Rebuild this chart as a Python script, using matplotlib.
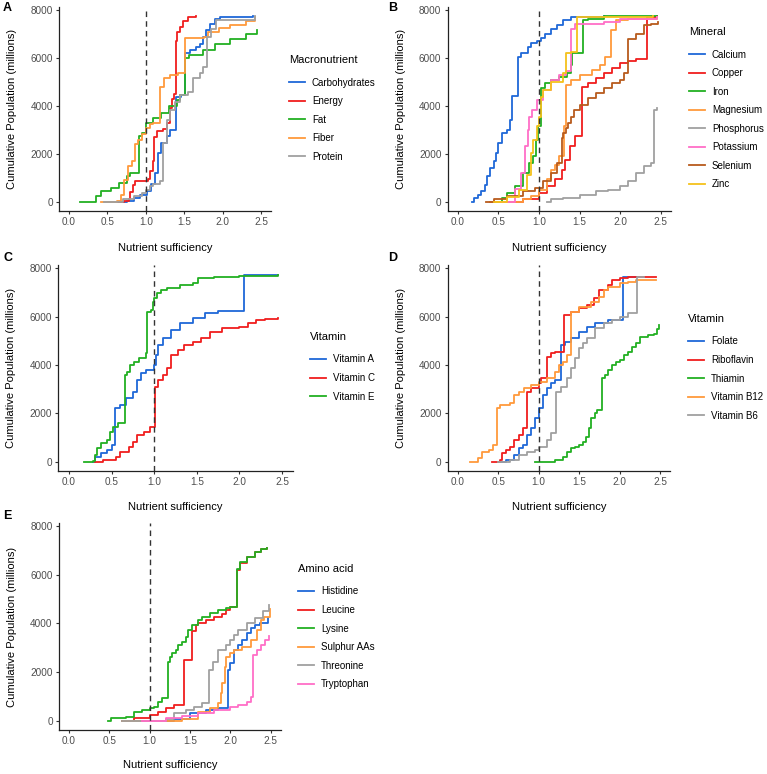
import matplotlib
matplotlib.use("Agg")
import matplotlib.pyplot as plt
from matplotlib.lines import Line2D

plt.rcParams['font.family'] = ['Liberation Sans', 'DejaVu Sans']

W, H = 767, 774

BLUE = "#1f68d8"
RED = "#f01e1e"
GREEN = "#22b022"
ORANGE = "#ff9a3c"
GRAY = "#a0a0a0"
PINK = "#ff6ec7"
BROWN = "#b85a1c"
YELLOW = "#f5c21b"

# ---------------------------------------------------------------- data
# A: macronutrients  (nutrient sufficiency, cumulative population in millions)
macro_x = {
    "Carbohydrates": [0.45, 0.75, 0.84, 0.92, 1.01, 1.07, 1.12, 1.16, 1.20, 1.27, 1.31, 1.39, 1.46, 1.51, 1.57, 1.66, 1.70, 1.74, 1.79, 1.83, 1.90, 1.96, 2.39],
    "Energy": [0.63, 0.72, 0.78, 0.80, 0.83, 0.86, 1.03, 1.06, 1.09, 1.11, 1.15, 1.22, 1.28, 1.31, 1.34, 1.37, 1.39, 1.41, 1.44, 1.48, 1.55, 1.66],
    "Fat": [0.14, 0.32, 0.35, 0.42, 0.55, 0.65, 0.75, 0.80, 0.91, 0.95, 1.00, 1.10, 1.20, 1.30, 1.40, 1.45, 1.51, 1.56, 1.75, 1.90, 2.10, 2.30, 2.45],
    "Fiber": [0.42, 0.62, 0.68, 0.72, 0.77, 0.82, 0.86, 0.90, 0.95, 1.00, 1.05, 1.10, 1.19, 1.24, 1.32, 1.42, 1.51, 1.76, 1.81, 1.95, 2.10, 2.30, 2.42],
    "Protein": [0.46, 0.70, 0.85, 0.95, 1.00, 1.05, 1.10, 1.18, 1.22, 1.28, 1.32, 1.38, 1.45, 1.55, 1.62, 1.70, 1.75, 1.80, 1.85, 1.92, 2.42],
}
macro_y = {
    "Carbohydrates": [0, 30, 170, 300, 440, 720, 1200, 2040, 2450, 2730, 3000, 4390, 4460, 6200, 6330, 6470, 6610, 6890, 7170, 7440, 7650, 7720, 7750],
    "Energy": [0, 30, 100, 400, 700, 880, 930, 1300, 1700, 2700, 2950, 3050, 3300, 3900, 4300, 4500, 6700, 7100, 7300, 7550, 7700, 7780],
    "Fat": [0, 0, 240, 440, 580, 790, 1070, 1200, 2730, 2870, 3280, 3500, 3700, 3980, 4250, 4460, 5990, 6130, 6330, 6600, 6800, 7030, 7190],
    "Fiber": [0, 50, 300, 900, 1500, 1700, 2400, 2600, 2850, 3100, 3250, 3300, 4800, 5150, 5300, 5400, 6850, 6900, 7100, 7250, 7400, 7550, 7700],
    "Protein": [0, 100, 250, 370, 510, 650, 720, 860, 2450, 3420, 3840, 4180, 4460, 4600, 5150, 5360, 5640, 6890, 7230, 7580, 7750],
}

# B: minerals
mineral_x = {
    "Calcium": [0.17, 0.20, 0.25, 0.29, 0.33, 0.36, 0.40, 0.44, 0.47, 0.50, 0.55, 0.61, 0.64, 0.67, 0.74, 0.78, 0.86, 0.90, 0.98, 1.03, 1.08, 1.15, 1.22, 1.30, 1.40, 1.80],
    "Copper": [0.55, 0.80, 1.00, 1.10, 1.20, 1.28, 1.32, 1.38, 1.45, 1.53, 1.60, 1.70, 1.80, 1.90, 2.00, 2.10, 2.20, 2.33, 2.45],
    "Iron": [0.45, 0.55, 0.60, 0.70, 0.80, 0.88, 0.93, 0.96, 0.99, 1.02, 1.08, 1.15, 1.25, 1.35, 1.39, 1.41, 1.54, 1.60, 1.80, 2.45],
    "Magnesium": [0.40, 0.80, 0.90, 1.00, 1.10, 1.15, 1.20, 1.25, 1.31, 1.33, 1.40, 1.50, 1.65, 1.75, 1.82, 1.89, 1.95, 2.10, 2.45],
    "Phosphorus": [1.10, 1.15, 1.30, 1.50, 1.70, 1.85, 2.00, 2.10, 2.20, 2.30, 2.38, 2.42, 2.46],
    "Potassium": [0.55, 0.70, 0.78, 0.83, 0.86, 0.88, 0.92, 0.97, 1.05, 1.15, 1.25, 1.33, 1.39, 1.45, 1.80, 2.00, 2.45],
    "Selenium": [0.35, 0.45, 0.60, 0.80, 0.95, 1.05, 1.15, 1.22, 1.28, 1.30, 1.33, 1.36, 1.40, 1.43, 1.50, 1.60, 1.70, 1.80, 1.90, 2.00, 2.05, 2.10, 2.20, 2.30, 2.38, 2.47],
    "Zinc": [0.45, 0.60, 0.75, 0.85, 0.90, 0.93, 0.97, 1.00, 1.02, 1.05, 1.15, 1.30, 1.33, 1.40, 1.47, 2.40],
}
mineral_y = {
    "Calcium": [0, 150, 300, 450, 700, 1070, 1400, 1700, 2040, 2450, 2870, 3000, 3400, 4400, 6060, 6200, 6450, 6650, 6700, 6850, 7000, 7200, 7400, 7600, 7720, 7750],
    "Copper": [0, 100, 370, 650, 930, 1340, 1760, 2310, 2730, 4810, 4950, 5150, 5360, 5570, 5780, 5880, 5950, 7720, 7750],
    "Iron": [0, 170, 370, 650, 1200, 1620, 1900, 2590, 3150, 4740, 4950, 5090, 5230, 5360, 5710, 6200, 7580, 7650, 7750, 7760],
    "Magnesium": [0, 100, 240, 510, 930, 1340, 1550, 1900, 3150, 4880, 5090, 5300, 5500, 5710, 6060, 7170, 7580, 7650, 7700],
    "Phosphorus": [0, 100, 170, 300, 440, 510, 650, 860, 1200, 1480, 1620, 3830, 3920],
    "Potassium": [0, 550, 1200, 2310, 3000, 3560, 3840, 4250, 4670, 5090, 5300, 5450, 7230, 7440, 7510, 7650, 7700],
    "Selenium": [0, 100, 240, 440, 580, 860, 1200, 1620, 2660, 2870, 3080, 3280, 3560, 3840, 4050, 4320, 4530, 4740, 4950, 5090, 5360, 6820, 7030, 7370, 7440, 7510],
    "Zinc": [0, 200, 500, 1100, 2040, 2590, 3150, 3560, 4390, 4670, 5020, 5360, 6200, 6260, 7720, 7750],
}

# C: vitamins A, C, E
vitc_x = {
    "Vitamin A": [0.28, 0.31, 0.38, 0.45, 0.50, 0.535, 0.60, 0.67, 0.75, 0.80, 0.85, 0.90, 1.00, 1.02, 1.05, 1.10, 1.20, 1.30, 1.45, 1.60, 1.75, 2.05, 2.45],
    "Vitamin C": [0.30, 0.40, 0.55, 0.60, 0.70, 0.75, 0.80, 0.88, 0.95, 1.01, 1.05, 1.10, 1.15, 1.20, 1.28, 1.35, 1.45, 1.55, 1.65, 1.80, 2.00, 2.10, 2.20, 2.30, 2.45],
    "Vitamin E": [0.17, 0.28, 0.30, 0.33, 0.37, 0.45, 0.48, 0.52, 0.58, 0.66, 0.68, 0.72, 0.76, 0.82, 0.90, 0.92, 0.96, 0.98, 1.00, 1.03, 1.08, 1.15, 1.30, 1.45, 1.52, 1.70, 2.00, 2.45],
}
vitc_y = {
    "Vitamin A": [0, 200, 340, 480, 690, 2200, 2340, 2620, 2900, 3380, 3650, 3790, 4000, 4410, 4830, 5100, 5450, 5720, 5930, 6140, 6230, 7720, 7730],
    "Vitamin C": [0, 70, 200, 410, 620, 830, 1100, 1240, 1450, 3100, 3380, 3590, 3860, 4410, 4620, 4830, 4960, 5100, 5380, 5520, 5590, 5720, 5860, 5900, 5950],
    "Vitamin E": [0, 30, 280, 550, 760, 900, 1240, 1450, 1590, 3590, 3720, 4000, 4140, 4280, 4480, 6200, 6270, 6620, 6760, 6960, 7100, 7170, 7310, 7380, 7610, 7640, 7680, 7720],
}

# D: vitamins B
vitd_x = {
    "Folate": [0.52, 0.60, 0.70, 0.75, 0.80, 0.85, 0.90, 0.95, 1.00, 1.05, 1.10, 1.15, 1.20, 1.28, 1.32, 1.40, 1.50, 1.60, 1.70, 1.85, 2.04, 2.30],
    "Riboflavin": [0.42, 0.52, 0.55, 0.60, 0.65, 0.70, 0.75, 0.80, 0.85, 0.90, 1.00, 1.03, 1.10, 1.15, 1.20, 1.31, 1.40, 1.50, 1.60, 1.68, 1.75, 1.85, 1.90, 2.00, 2.10, 2.45],
    "Thiamin": [0.95, 1.20, 1.30, 1.35, 1.40, 1.45, 1.50, 1.55, 1.58, 1.62, 1.65, 1.70, 1.72, 1.78, 1.82, 1.86, 1.90, 1.95, 2.00, 2.05, 2.10, 2.15, 2.20, 2.25, 2.35, 2.42, 2.46, 2.49],
    "Vitamin B12": [0.15, 0.25, 0.30, 0.38, 0.43, 0.49, 0.52, 0.65, 0.70, 0.75, 0.82, 0.90, 1.00, 1.10, 1.20, 1.25, 1.30, 1.35, 1.40, 1.50, 1.65, 1.75, 1.80, 1.85, 2.00, 2.10, 2.20, 2.45],
    "Vitamin B6": [0.50, 0.65, 0.75, 0.85, 0.95, 1.00, 1.10, 1.15, 1.21, 1.28, 1.35, 1.40, 1.45, 1.50, 1.55, 1.60, 1.70, 1.80, 1.90, 2.00, 2.10, 2.21, 2.30],
}
vitd_y = {
    "Folate": [0, 70, 280, 550, 690, 1100, 1380, 1790, 2200, 2760, 3030, 3240, 3380, 4830, 4960, 5100, 5380, 5590, 5720, 5860, 7650, 7660],
    "Riboflavin": [0, 70, 340, 480, 620, 900, 1100, 1380, 2900, 3030, 3240, 3450, 4340, 4480, 4550, 6070, 6200, 6340, 6480, 6760, 7100, 7310, 7520, 7610, 7650, 7660],
    "Thiamin": [0, 70, 200, 410, 550, 620, 690, 830, 1030, 1380, 1790, 2000, 2140, 3450, 3590, 3790, 4000, 4140, 4210, 4410, 4550, 4760, 4900, 5170, 5240, 5300, 5500, 5650],
    "Vitamin B12": [0, 140, 410, 480, 690, 2200, 2340, 2410, 2760, 2900, 3030, 3170, 3310, 3450, 3720, 4000, 4140, 4410, 6200, 6410, 6620, 6830, 7100, 7240, 7380, 7450, 7520, 7530],
    "Vitamin B6": [0, 70, 280, 410, 480, 620, 900, 1170, 2900, 3100, 3450, 3860, 4280, 4690, 4900, 5100, 5520, 5720, 5860, 6000, 6140, 7650, 7660],
}

# E: amino acids
amino_x = {
    "Histidine": [0.65, 1.30, 1.50, 1.70, 1.85, 1.97, 2.00, 2.05, 2.10, 2.15, 2.20, 2.25, 2.30, 2.37, 2.47],
    "Leucine": [0.65, 0.80, 1.00, 1.10, 1.20, 1.30, 1.43, 1.53, 1.57, 1.60, 1.70, 1.80, 1.90, 1.95, 2.00, 2.08, 2.12, 2.20, 2.30, 2.38, 2.46],
    "Lysine": [0.48, 0.52, 0.70, 0.80, 0.90, 1.00, 1.05, 1.10, 1.15, 1.23, 1.25, 1.28, 1.32, 1.35, 1.40, 1.45, 1.48, 1.52, 1.60, 1.65, 1.75, 1.85, 1.95, 2.00, 2.08, 2.12, 2.20, 2.30, 2.38, 2.46],
    "Sulphur AAs": [0.65, 1.40, 1.60, 1.75, 1.85, 1.88, 1.90, 1.93, 1.95, 2.00, 2.05, 2.15, 2.25, 2.33, 2.38, 2.42, 2.49],
    "Threonine": [0.65, 1.20, 1.30, 1.45, 1.55, 1.65, 1.74, 1.78, 1.85, 1.95, 2.00, 2.05, 2.10, 2.20, 2.30, 2.40, 2.48],
    "Tryptophan": [0.90, 1.20, 1.40, 1.60, 1.80, 2.00, 2.10, 2.20, 2.25, 2.28, 2.33, 2.38, 2.43, 2.48],
}
amino_y = {
    "Histidine": [0, 70, 300, 440, 510, 2080, 2360, 2900, 3110, 3320, 3590, 3800, 3930, 4030, 4230],
    "Leucine": [0, 100, 230, 370, 510, 640, 2500, 3700, 3950, 4000, 4140, 4270, 4410, 4550, 4690, 6190, 6470, 6740, 6950, 7080, 7100],
    "Lysine": [0, 100, 160, 370, 440, 510, 580, 780, 920, 2420, 2630, 2800, 2900, 3110, 3250, 3450, 3730, 3930, 4140, 4270, 4440, 4550, 4620, 4690, 6260, 6530, 6740, 6950, 7060, 7100],
    "Sulphur AAs": [0, 70, 370, 510, 710, 1120, 1530, 2220, 2630, 2770, 2900, 3040, 3320, 3730, 4140, 4270, 4600],
    "Threonine": [0, 70, 300, 440, 580, 710, 2080, 2420, 2900, 3110, 3320, 3520, 3730, 4000, 4210, 4500, 4750],
    "Tryptophan": [0, 100, 190, 300, 440, 580, 640, 780, 990, 2710, 2910, 3120, 3330, 3490],
}

panels = [
    ("A", "Macronutrient", macro_x, macro_y, [BLUE, RED, GREEN, ORANGE, GRAY]),
    ("B", "Mineral", mineral_x, mineral_y, [BLUE, RED, GREEN, ORANGE, GRAY, PINK, BROWN, YELLOW]),
    ("C", "Vitamin", vitc_x, vitc_y, [BLUE, RED, GREEN]),
    ("D", "Vitamin", vitd_x, vitd_y, [BLUE, RED, GREEN, ORANGE, GRAY]),
    ("E", "Amino acid", amino_x, amino_y, [BLUE, RED, GREEN, ORANGE, GRAY, PINK]),
]

# axes boxes in pixels: left, right, top, bottom
boxes = {
    "A": (59.4, 270.6, 7, 211),
    "B": (447.7, 670.8, 7, 211),
    "C": (58.4, 292.6, 265, 471),
    "D": (447.7, 670.3, 265, 471),
    "E": (59.0, 280.8, 523, 730),
}
# legend anchor (left, title top) in pixels
legend_pos = {
    "A": (289, 55),
    "B": (689, 27),
    "C": (310, 332),
    "D": (688, 314),
    "E": (298, 564),
}
xlabel_gap = {"A": 37, "B": 37, "C": 36, "D": 36, "E": 35}
letter_pos = {"A": (3, 8), "B": (388, 8), "C": (3, 258), "D": (388, 258), "E": (3, 516)}

fig = plt.figure(figsize=(W / 100, H / 100), dpi=100)

for key, title, xs, ys, colors in panels:
    l, r, t, b = boxes[key]
    ax = fig.add_axes([l / W, 1 - b / H, (r - l) / W, (b - t) / H])
    handles = []
    for (name, xv), c in zip(xs.items(), colors):
        ax.step(xv, ys[name], where="post", color=c, lw=1.3)
        handles.append(Line2D([], [], color=c, lw=1.3, label=name))
    ax.axvline(1.0, color="#333333", lw=1.0, ls=(0, (4, 3)))
    ax.set_xlim(-0.125, 2.625)
    ax.set_ylim(-387.5, 8137.5)
    ax.set_xticks([0.0, 0.5, 1.0, 1.5, 2.0, 2.5])
    ax.set_xticklabels(["0.0", "0.5", "1.0", "1.5", "2.0", "2.5"])
    ax.set_yticks([0, 2000, 4000, 6000, 8000])
    for s in ["top", "right"]:
        ax.spines[s].set_visible(False)
    for s in ["left", "bottom"]:
        ax.spines[s].set_linewidth(0.9)
        ax.spines[s].set_color("#222222")
    ax.tick_params(length=2.5, width=0.8, color="#333333", labelsize=7.2,
                   labelcolor="#4d4d4d", pad=2)
    ax.set_xlabel("Nutrient sufficiency", fontsize=8)
    ax.xaxis.set_label_coords(0.5, -xlabel_gap[key] / (b - t))
    ax.xaxis.label.set_va("center")
    ax.set_ylabel("Cumulative Population (millions)", fontsize=8)
    ax.yaxis.set_label_coords(-47 / (r - l), 0.5)
    ax.yaxis.label.set_va("center")

    lx, ly = legend_pos[key]
    leg = ax.legend(handles=handles, title=title, loc="upper left",
                    bbox_to_anchor=(lx / W, 1 - ly / H), bbox_transform=fig.transFigure,
                    frameon=False, fontsize=7, title_fontsize=8,
                    handlelength=1.6, handletextpad=0.75, labelspacing=0.88,
                    borderpad=0, borderaxespad=0, alignment="left")
    leg._legend_box.sep = 9

    px, py = letter_pos[key]
    fig.text(px / W, 1 - py / H, key, fontsize=9, fontweight="bold",
             ha="left", va="center")

fig.savefig("out.png", dpi=100)
